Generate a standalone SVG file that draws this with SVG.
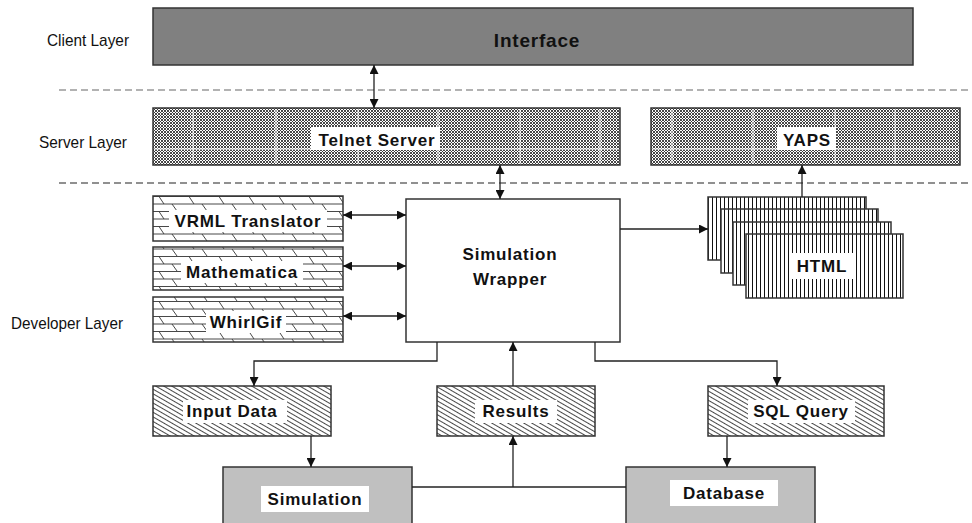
<svg xmlns="http://www.w3.org/2000/svg" width="972" height="523" viewBox="0 0 972 523">
<style>
.lbl{font-family:"Liberation Sans",Arial,sans-serif;font-size:17px;fill:#111}
.t{font-family:"Liberation Sans",Arial,sans-serif;font-size:17px;font-weight:bold;fill:#111;text-anchor:middle;letter-spacing:0.8px}
.box{stroke:#333;stroke-width:1.5}
.bg{fill:#fff}
.conn{fill:none;stroke:#222;stroke-width:1.3}
.dash{stroke-dasharray:7 4;stroke-width:1.2}
</style>
<defs>
<pattern id="check" width="3" height="3" patternUnits="userSpaceOnUse">
<rect width="3" height="3" fill="#fff"/>
<path d="M0 0L3 3M3 0L0 3" stroke="#333" stroke-width="0.9" fill="none"/>
</pattern>
<pattern id="brick" width="30" height="15" patternUnits="userSpaceOnUse" x="153" y="196">
<rect width="30" height="15" fill="#fff"/>
<path d="M0 0.5H30M0 8H30M6 0.5L11 8M19 8L24 15" stroke="#333" stroke-width="0.9" fill="none"/>
</pattern>
<pattern id="hatch" width="4" height="4" patternUnits="userSpaceOnUse" patternTransform="rotate(30)">
<rect width="4" height="4" fill="#fff"/>
<path d="M0 0.5H4" stroke="#333" stroke-width="0.9"/>
</pattern>
<pattern id="vert" width="4" height="8" patternUnits="userSpaceOnUse">
<rect width="4" height="8" fill="#fff"/>
<path d="M0.5 0V8" stroke="#111" stroke-width="1"/>
</pattern>
<marker id="ah" viewBox="0 0 10 10" refX="10" refY="5" markerWidth="9" markerHeight="9" markerUnits="userSpaceOnUse" orient="auto-start-reverse">
<path d="M0 0L10 5L0 10Z" fill="#111"/>
</marker>
</defs>

<g id="layer-labels">
<text class="lbl" x="47" y="46" textLength="82" lengthAdjust="spacingAndGlyphs">Client Layer</text>
<text class="lbl" x="39" y="148" textLength="88" lengthAdjust="spacingAndGlyphs">Server Layer</text>
<text class="lbl" x="11" y="329" textLength="112" lengthAdjust="spacingAndGlyphs">Developer Layer</text>
<line class="dash" x1="59" y1="90" x2="972" y2="90" stroke="#666"/>
<line class="dash" x1="59" y1="183" x2="972" y2="183" stroke="#222"/>
</g>

<g id="interface">
<rect class="box" x="153" y="8" width="760" height="57" fill="#808080"/>
<text class="t" x="537" y="47" style="font-size:19px">Interface</text>
</g>

<g id="telnet">
<rect class="box" x="153" y="108" width="467" height="57" fill="url(#check)"/>
<path d="M193 109V164M276 109V164M358 109V164M438 109V164M520 109V164M600 109V164M154 149H619" stroke="#fff" stroke-width="1"/>
<rect class="bg" x="311" y="127" width="129" height="23"/>
<text class="t" x="377" y="146">Telnet Server</text>
</g>

<g id="yaps">
<rect class="box" x="651" y="108" width="309" height="57" fill="url(#check)"/>
<path d="M672 109V164M753 109V164M835 109V164M895 109V164M652 149H959" stroke="#fff" stroke-width="1"/>
<rect class="bg" x="777" y="127" width="59" height="23"/>
<text class="t" x="807" y="146">YAPS</text>
</g>

<g id="vrml">
<rect class="box" x="153" y="196" width="190" height="45" fill="url(#brick)"/>
<rect class="bg" x="169" y="210" width="158" height="22"/>
<text class="t" x="248" y="227">VRML Translator</text>
</g>
<g id="mathematica">
<rect class="box" x="153" y="247" width="190" height="43" fill="url(#brick)"/>
<rect class="bg" x="181" y="261" width="122" height="22"/>
<text class="t" x="242" y="278">Mathematica</text>
</g>
<g id="whirlgif">
<rect class="box" x="153" y="297" width="190" height="45" fill="url(#brick)"/>
<rect class="bg" x="206" y="311" width="80" height="22"/>
<text class="t" x="246" y="328">WhirlGif</text>
</g>

<g id="wrapper">
<rect class="box" x="406" y="199" width="214" height="143" fill="#fff"/>
<text class="t" x="510" y="260">Simulation</text>
<text class="t" x="510" y="285">Wrapper</text>
</g>

<g id="html">
<rect class="box" x="708" y="197" width="158" height="63" fill="url(#vert)"/>
<rect class="box" x="721" y="209" width="157" height="64" fill="url(#vert)"/>
<rect class="box" x="733" y="222" width="158" height="63" fill="url(#vert)"/>
<rect class="box" x="746" y="234" width="157" height="64" fill="url(#vert)"/>
<rect class="bg" x="790" y="253" width="65" height="26"/>
<text class="t" x="822" y="272">HTML</text>
</g>

<g id="input-data">
<rect class="box" x="153" y="386" width="178" height="50" fill="url(#hatch)"/>
<rect class="bg" x="183" y="400" width="104" height="23"/>
<text class="t" x="232" y="417">Input Data</text>
</g>
<g id="results">
<rect class="box" x="437" y="386" width="158" height="50" fill="url(#hatch)"/>
<rect class="bg" x="475" y="400" width="82" height="23"/>
<text class="t" x="516" y="417">Results</text>
</g>
<g id="sql-query">
<rect class="box" x="708" y="386" width="176" height="50" fill="url(#hatch)"/>
<rect class="bg" x="748" y="400" width="107" height="23"/>
<text class="t" x="801" y="417">SQL Query</text>
</g>
<g id="simulation">
<rect class="box" x="223" y="467" width="189" height="70" fill="#c0c0c0"/>
<rect class="bg" x="261" y="486" width="108" height="26"/>
<text class="t" x="315" y="505">Simulation</text>
</g>
<g id="database">
<rect class="box" x="626" y="467" width="189" height="70" fill="#c0c0c0"/>
<rect class="bg" x="670" y="480" width="108" height="26"/>
<text class="t" x="724" y="499">Database</text>
</g>

<g id="connectors">
<path class="conn" d="M374 65V108" marker-start="url(#ah)" marker-end="url(#ah)"/>
<path class="conn" d="M802 197V165" marker-end="url(#ah)"/>
<path class="conn" d="M500 165V199" marker-start="url(#ah)" marker-end="url(#ah)"/>
<path class="conn" d="M343 215H406" marker-start="url(#ah)" marker-end="url(#ah)"/>
<path class="conn" d="M343 266H406" marker-start="url(#ah)" marker-end="url(#ah)"/>
<path class="conn" d="M343 316H406" marker-start="url(#ah)" marker-end="url(#ah)"/>
<path class="conn" d="M620 229H708" marker-end="url(#ah)"/>
<path class="conn" d="M437 342V361H254V386" marker-end="url(#ah)"/>
<path class="conn" d="M595 342V361H777V386" marker-end="url(#ah)"/>
<path class="conn" d="M513 386V342" marker-end="url(#ah)"/>
<path class="conn" d="M311 436V467" marker-end="url(#ah)"/>
<path class="conn" d="M727 436V467" marker-end="url(#ah)"/>
<path class="conn" d="M412 487H626"/>
<path class="conn" d="M513 487V436" marker-end="url(#ah)"/>
</g>
</svg>
